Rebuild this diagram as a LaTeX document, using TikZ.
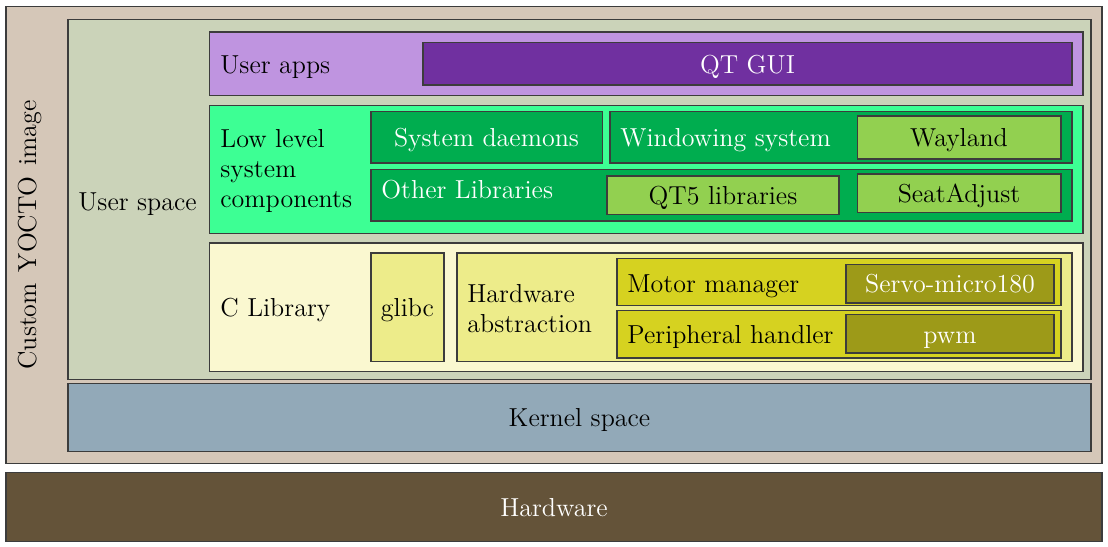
\documentclass[tikz,border=0pt]{standalone}
\usetikzlibrary{fit}
\definecolor{cOuter}{HTML}{D5C7B8}
\definecolor{cUser}{HTML}{CBD3B9}
\definecolor{cApps}{HTML}{BF94E0}
\definecolor{cQt}{HTML}{7030A0}
\definecolor{cLow}{HTML}{3DFF94}
\definecolor{cDark}{HTML}{00AD4F}
\definecolor{cLight}{HTML}{92D050}
\definecolor{cClib}{HTML}{FAF8D0}
\definecolor{cGlibc}{HTML}{EDEC8A}
\definecolor{cMotor}{HTML}{D6D220}
\definecolor{cServo}{HTML}{9D9A18}
\definecolor{cKernel}{HTML}{92A9B8}
\definecolor{cHw}{HTML}{645339}
\definecolor{cLine}{HTML}{3C3C3C}
\begin{document}
\begin{tikzpicture}[x=0.5pt,y=-0.5pt,
  font=\fontsize{13}{15}\selectfont,
  box/.style={draw=cLine,line width=0.6pt,inner sep=0pt,outer sep=0pt},
  lbl/.style={anchor=base west,inner sep=0pt},
  mlbl/.style={anchor=west,inner sep=0pt,align=left},
  ctr/.style={anchor=base,inner sep=0pt},
  wt/.style={text=white}]
\useasboundingbox (0,0) rectangle (1108,546);
% outer
\node[box,fill=cOuter,fit={(6,6.5) (1102,463.5)}] (outer) {};
\node[rotate=90,anchor=base,inner sep=0pt] (outerlbl) at (36,235) {Custom\hspace{5.5pt}YOCTO\hspace{5.5pt}image};
\node[box,fill=cUser,fit={(68,19.5) (1091,379.5)}] (user) {};
\node[lbl] (userlbl) at (78,210) {User space};
% user apps
\node[box,fill=cApps,fit={(209.5,32) (1083,95.5)}] (apps) {};
\node[lbl] (appslbl) at (220,73) {User apps};
\node[box,fill=cQt,fit={(423,42.5) (1072,85)}] (qt) {};
\node[ctr,wt] (qtlbl) at (747.5,73) {QT GUI};
% low level
\node[box,fill=cLow,fit={(209.5,105.5) (1083,233.5)}] (low) {};
\node[mlbl] (lowlbl) at (220,170.5) {Low level\\system\\components};
\node[box,fill=cDark,fit={(371,111.5) (602.5,163)}] (daemons) {};
\node[ctr,wt] (daemonslbl) at (486.5,146) {System daemons};
\node[box,fill=cDark,fit={(610,111.5) (1072,163)}] (win) {};
\node[lbl,wt] (winlbl) at (620,146) {Windowing system};
\node[box,fill=cLight,fit={(857.5,116) (1061,159)}] (wayland) {};
\node[ctr] (waylandlbl) at (959,146) {Wayland};
\node[box,fill=cDark,fit={(371,169.5) (1072,221)}] (other) {};
\node[lbl,wt] (otherlbl) at (381,198) {Other Libraries};
\node[box,fill=cLight,fit={(607,176) (839,214.5)}] (qt5) {};
\node[ctr] (qt5lbl) at (723,204) {QT5 libraries};
\node[box,fill=cLight,fit={(857.5,174) (1061,212.5)}] (seat) {};
\node[ctr] (seatlbl) at (959,202) {SeatAdjust};
% C library
\node[box,fill=cClib,fit={(209.5,243) (1083,371.5)}] (clib) {};
\node[lbl] (cliblbl) at (220,316) {C Library};
\node[box,fill=cGlibc,fit={(371,253) (444,361.5)}] (glibc) {};
\node[ctr] (glibclbl) at (407.5,316) {glibc};
\node[box,fill=cGlibc,fit={(457,253) (1072,361.5)}] (hwabs) {};
\node[mlbl] (hwabslbl) at (467,309) {Hardware\\abstraction};
\node[box,fill=cMotor,fit={(617,258.5) (1061,305.5)}] (motor) {};
\node[lbl] (motorlbl) at (627,292) {Motor manager};
\node[box,fill=cServo,fit={(846,264.5) (1054,303)}] (servo) {};
\node[ctr,wt] (servolbl) at (950,292) {Servo-micro180};
\node[box,fill=cMotor,fit={(617,310.5) (1061,358)}] (periph) {};
\node[lbl] (periphlbl) at (627,343) {Peripheral handler};
\node[box,fill=cServo,fit={(846,314.5) (1054,353)}] (pwm) {};
\node[ctr,wt] (pwmlbl) at (950,343) {pwm};
% kernel
\node[box,fill=cKernel,fit={(68,383.5) (1091,451.5)}] (kernel) {};
\node[ctr] (kernellbl) at (579.5,426) {Kernel space};
% hardware
\node[box,fill=cHw,fit={(6,472.5) (1102,541.5)}] (hw) {};
\node[ctr,wt] (hwlbl) at (554,516) {Hardware};
\end{tikzpicture}
\end{document}
